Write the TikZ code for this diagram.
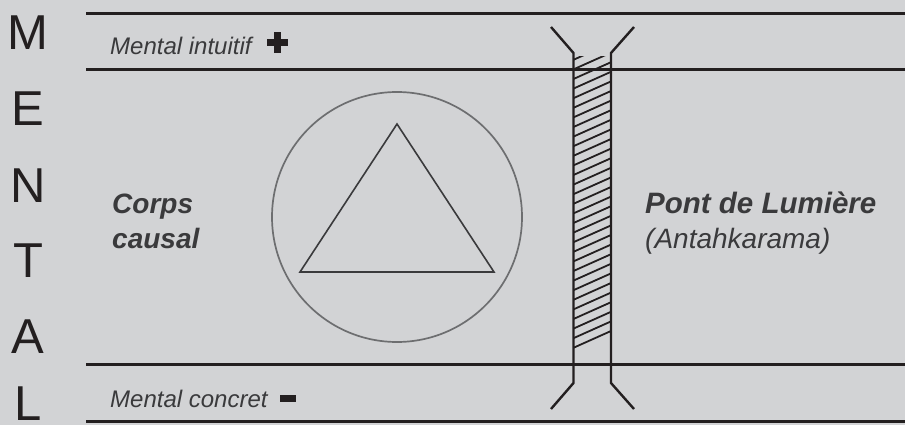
\documentclass[tikz,border=0pt]{standalone}
\usepackage{fontspec}
\setmainfont{Liberation Sans}
\usepackage{tikz}
\usetikzlibrary{positioning,calc}
\definecolor{mtBack}{HTML}{D2D3D5}
\definecolor{mtInk}{HTML}{231F20}
\definecolor{mtText}{HTML}{3A3A3C}
\definecolor{mtRing}{HTML}{6D6E70}
\tikzset{
    % Lines
    mtLevel/.style={line width=3pt, draw=mtInk},
    mtBridge/.style={line width=2.4pt, draw=mtInk},
    mtHatch/.style={line width=1.8pt, draw=mtInk},
    mtRingLine/.style={line width=1.7pt, draw=mtRing},
    mtTriangle/.style={line width=1.6pt, draw=mtText, line join=miter},
    % Texts
    mtLetter/.style={anchor=base, text=mtInk, inner sep=0pt,
        font=\fontsize{49}{49}\selectfont},
    mtLevelLabel/.style={anchor=base west, text=mtText, inner sep=0pt,
        font=\fontsize{24}{28}\selectfont\itshape},
    mtBody/.style={anchor=base west, text=mtText, inner sep=0pt, align=left,
        font=\fontsize{28}{35}\selectfont}
}

\begin{document}
\begin{tikzpicture}[x=1pt, y=-1pt]
    \fill[mtBack] (0,0) rectangle (905,425);
    \useasboundingbox (0,0) rectangle (905,425);

    % MENTAL, one letter under the other
    \foreach \ch/\y [count=\i] in {M/50,E/126,N/202,T/277,A/353,L/420}
        \node[mtLetter] (letter\i) at (28,\y) {\ch};

    % level lines
    \coordinate (topL) at (86,13.5);   \coordinate (topR) at (905,13.5);
    \coordinate (upL) at (86,70);      \coordinate (upR) at (905,70);
    \coordinate (lowL) at (86,364.5);  \coordinate (lowR) at (905,364.5);
    \coordinate (botL) at (86,421);    \coordinate (botR) at (905,421);
    \draw[mtLevel] (topL) -- (topR);
    \draw[mtLevel] (upL) -- (upR);
    \draw[mtLevel] (lowL) -- (lowR);
    \draw[mtLevel] (botL) -- (botR);

    \node[mtLevelLabel] (intuitif) at (110,55) {Mental intuitif};
    \node[mtLevelLabel] (concret) at (110,407) {Mental concret};
    \fill[mtInk] (266.5,39.5) rectangle (287.5,46.5);
    \fill[mtInk] (273.5,32.5) rectangle (280.5,53.5);
    \fill[mtInk] (280,395) rectangle (296,402);

    % causal body
    \node[mtRingLine, circle, minimum size=250pt, inner sep=0pt] (causal) at (397,217) {};
    \coordinate (apex) at (397,124);
    \coordinate (baseL) at (300,272);
    \coordinate (baseR) at (494,272);
    \draw[mtTriangle] (apex) -- (baseL) -- (baseR) -- cycle;
    \node[mtBody] (corps) at (112,248) {\textbf{\textit{Corps}}\\\textbf{\textit{causal}}};

    % bridge
    \begin{scope}
        \clip (573,57) rectangle (611,349);
        \foreach \k in {0,...,32}
            \draw[mtHatch] (573,{348-9.6*\k}) -- (611,{331-9.6*\k});
    \end{scope}
    \coordinate (brTL) at (573.5,53);  \coordinate (brTR) at (611,53);
    \coordinate (brBL) at (573.5,383); \coordinate (brBR) at (611,383);
    \draw[mtBridge, line join=miter] (551,27) -- (brTL) -- (brBL) -- (551,409);
    \draw[mtBridge, line join=miter] (634,27) -- (brTR) -- (brBR) -- (634,409);
    \node[mtBody] (pont) at (645,248) {\textbf{\textit{\fontsize{29.5}{35}\selectfont Pont de Lumière}}\\\textit{(Antahkarama)}};
\end{tikzpicture}
\end{document}
